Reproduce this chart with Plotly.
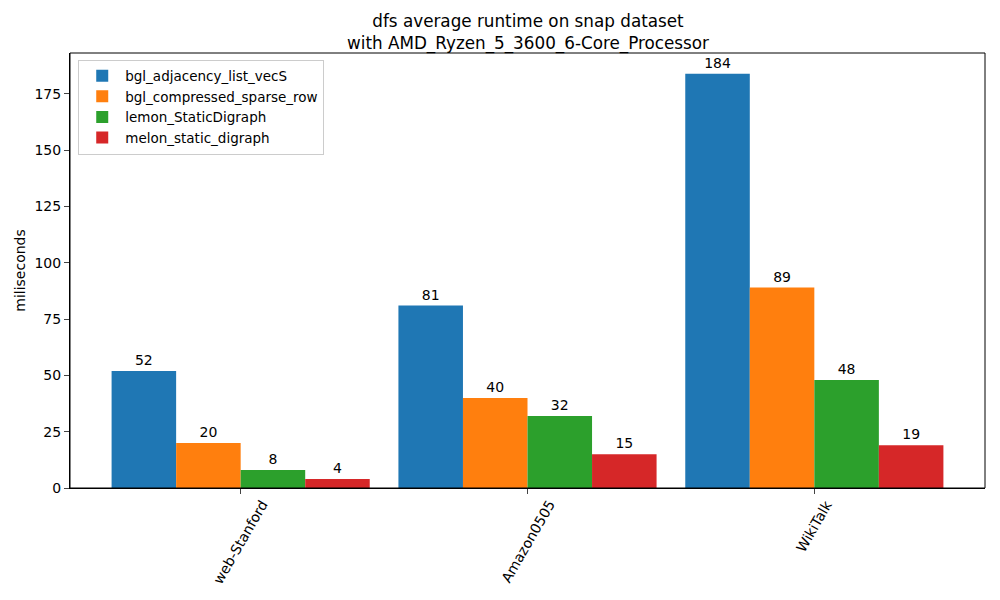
import plotly.graph_objects as go

datasets = ["web-Stanford", "Amazon0505", "WikiTalk"]
series_names = ["bgl_adjacency_list_vecS", "bgl_compressed_sparse_row",
                "lemon_StaticDigraph", "melon_static_digraph"]
runtimes = [
    [52, 81, 184],
    [20, 40, 89],
    [8, 32, 48],
    [4, 15, 19],
]
colors = ["#1f77b4", "#ff7f0e", "#2ca02c", "#d62728"]

font = "DejaVu Sans"

fig = go.Figure()
for name, vals, c in zip(series_names, runtimes, colors):
    fig.add_trace(go.Bar(
        x=datasets, y=vals, name=name, marker_color=c, marker_line_width=0,
        text=[str(v) for v in vals], textposition="outside",
        textfont=dict(family=font, size=14, color="black"),
        cliponaxis=False,
    ))

# frame around the axes
fig.add_shape(type="rect", xref="paper", yref="paper", x0=0, y0=0, x1=1, y1=1,
              line=dict(color="black", width=1), layer="above")

# rotated tick labels centred on their ticks (matplotlib style)
for d in datasets:
    fig.add_annotation(x=d, y=0, xref="x", yref="paper", text=d, showarrow=False,
                       textangle=-60, xanchor="center", yanchor="top", yshift=-7,
                       font=dict(family=font, size=14, color="black"))

fig.update_layout(
    width=1000, height=600,
    margin=dict(l=70, r=15, t=53, b=112, autoexpand=False),
    barmode="group", bargap=0.1, bargroupgap=0,
    plot_bgcolor="white", paper_bgcolor="white",
    font=dict(family=font, size=14, color="black"),
    title=dict(
        text="dfs average runtime on snap dataset<br>with AMD_Ryzen_5_3600_6-Core_Processor",
        x=0.528, xanchor="center", xref="container",
        y=0.955, yanchor="top", yref="container",
        font=dict(family=font, size=16.8),
    ),
    legend=dict(
        x=0.009, y=0.985, xanchor="left", yanchor="top",
        bordercolor="#cccccc", borderwidth=1, bgcolor="rgba(255,255,255,0.8)",
        font=dict(family=font, size=13.5), tracegroupgap=0, itemwidth=36,
    ),
    showlegend=True,
)
fig.update_xaxes(
    range=[-0.595, 2.595], showline=True, linecolor="black", linewidth=1,
    ticks="outside", ticklen=5, showticklabels=False, automargin=False,
)
fig.update_yaxes(
    range=[0, 193.2], dtick=25, showline=True, linecolor="black", linewidth=1,
    ticks="outside", ticklen=5, showgrid=False, zeroline=False, automargin=False,
    title=dict(text="miliseconds", font=dict(family=font, size=14), standoff=5),
    tickfont=dict(family=font, size=14),
)

fig.write_html("out.html", config={"displayModeBar": False},
               post_script="document.body.style.margin='0';")
